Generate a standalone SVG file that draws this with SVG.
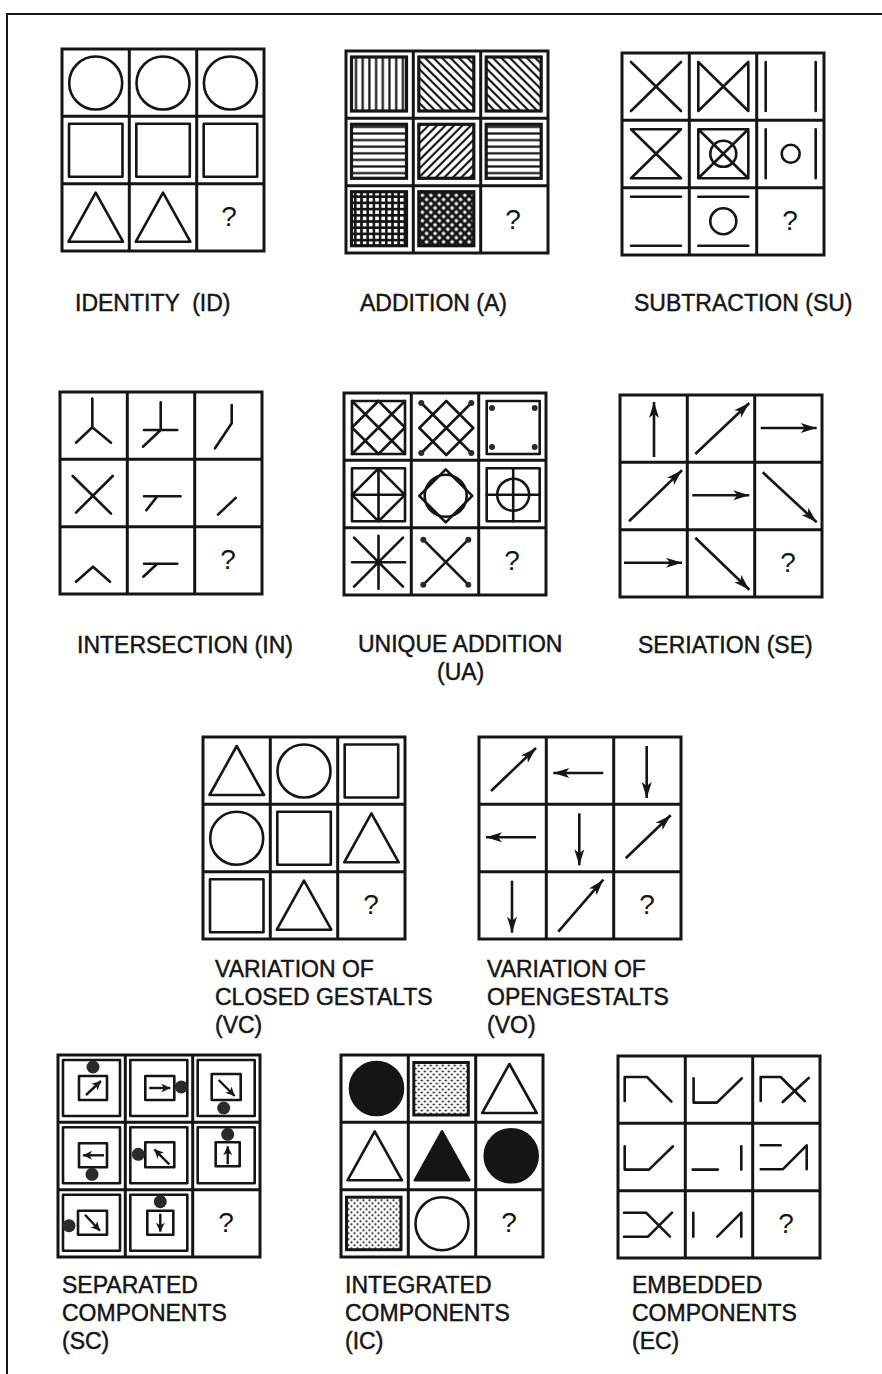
<svg xmlns="http://www.w3.org/2000/svg" width="882" height="1374" viewBox="0 0 882 1374">
<style>
.g{fill:none;stroke:#151515;stroke-width:3}
.s{fill:none;stroke:#151515;stroke-width:2.6;stroke-linejoin:round;stroke-linecap:round}
.f{fill:#151515;stroke:#151515;stroke-width:2.6;stroke-linejoin:round}
.h{stroke:#151515;stroke-width:3.2}
.a{fill:none;stroke:#151515;stroke-width:2.6;marker-end:url(#ah)}
.a2{fill:none;stroke:#151515;stroke-width:2.4;marker-end:url(#ah2)}
.t{font-family:"Liberation Sans",Arial,sans-serif;font-size:23px;fill:#151515;stroke:#151515;stroke-width:0.45;white-space:pre}
.q{font-family:"Liberation Sans",Arial,sans-serif;font-size:28px;fill:#151515;text-anchor:middle}
.d{fill:#2a2a2a}
.fr{fill:none;stroke:#151515;stroke-width:2}
</style>
<defs>
<marker id="ah" viewBox="-17 -6 18 12" refX="0" refY="0" markerWidth="18" markerHeight="12" markerUnits="userSpaceOnUse" orient="auto"><path d="M0,0 L-16,-5 L-12,0 L-16,5 Z" fill="#151515"/></marker>
<marker id="ah2" viewBox="-10 -5 11 10" refX="0" refY="0" markerWidth="11" markerHeight="10" markerUnits="userSpaceOnUse" orient="auto"><path d="M0,0 L-9,-4.5 L-6.5,0 L-9,4.5 Z" fill="#151515"/></marker>
<pattern id="pv" width="6.7" height="10" patternUnits="userSpaceOnUse"><line x1="3.3" y1="0" x2="3.3" y2="10" stroke="#151515" stroke-width="2.2"/></pattern>
<pattern id="ph" width="10" height="6.6" patternUnits="userSpaceOnUse"><line x1="0" y1="3.3" x2="10" y2="3.3" stroke="#151515" stroke-width="2.2"/></pattern>
<pattern id="pd1" width="6" height="10" patternUnits="userSpaceOnUse" patternTransform="rotate(-45)"><line x1="3" y1="0" x2="3" y2="10" stroke="#151515" stroke-width="2.2"/></pattern>
<pattern id="pd2" width="6" height="10" patternUnits="userSpaceOnUse" patternTransform="rotate(45)"><line x1="3" y1="0" x2="3" y2="10" stroke="#151515" stroke-width="2.2"/></pattern>
<pattern id="pg" width="6.2" height="6.2" patternUnits="userSpaceOnUse"><path d="M3.1,0V6.2M0,3.1H6.2" stroke="#151515" stroke-width="2.6"/></pattern>
<pattern id="px" width="6" height="6" patternUnits="userSpaceOnUse" patternTransform="rotate(45)"><path d="M3,0V6M0,3H6" stroke="#151515" stroke-width="2.9"/></pattern>
<pattern id="pdot" width="6" height="6" patternUnits="userSpaceOnUse"><circle cx="1.5" cy="1.5" r="1.1" fill="#151515"/><circle cx="4.5" cy="4.5" r="1.1" fill="#151515"/></pattern>
<g id="grid" class="g"><rect width="202" height="202"/><path d="M67.3,0V202M134.7,0V202M0,67.3H202M0,134.7H202"/></g>
<circle id="circ" cx="33.7" cy="34" r="26.5" class="s"/>
<rect id="sq" x="7" y="7.5" width="53.5" height="53" class="s"/>
<path id="tri" d="M33.7,9 L61,58 L6.5,58 Z" class="s"/>
<circle id="fcirc" cx="35.5" cy="33.5" r="26.5" class="f"/>
<path id="ftri" d="M33.7,9 L61,58 L6.5,58 Z" class="f"/>
<rect id="dsq" x="5.5" y="7.5" width="54.5" height="52.5" fill="url(#pdot)" stroke="#151515" stroke-width="3"/>
</defs>

<g id="frame"><path class="fr" d="M7,1374 V14 H882"/></g>

<g id="identity">
<g transform="translate(62,49)">
<use href="#grid"/>
<use href="#circ"/><use href="#circ" x="67.3"/><use href="#circ" x="134.7"/>
<use href="#sq" y="67.3"/><use href="#sq" x="67.3" y="67.3"/><use href="#sq" x="134.7" y="67.3"/>
<use href="#tri" y="134.7"/><use href="#tri" x="67.3" y="134.7"/>
<text class="q" x="167" y="177">?</text>
</g>
<text class="t" x="75" y="311">IDENTITY  (ID)</text>
</g>

<g id="addition">
<g transform="translate(346,51)">
<use href="#grid"/>
<rect x="5.5" y="6" width="55" height="54" fill="url(#pv)" class="h"/>
<rect x="72.8" y="6" width="55" height="54" fill="url(#pd1)" class="h"/>
<rect x="140.2" y="6" width="55" height="54" fill="url(#pd1)" class="h"/>
<rect x="5.5" y="73.3" width="55" height="54" fill="url(#ph)" class="h"/>
<rect x="72.8" y="73.3" width="55" height="54" fill="url(#pd2)" class="h"/>
<rect x="140.2" y="73.3" width="55" height="54" fill="url(#ph)" class="h"/>
<rect x="5.5" y="140.7" width="55" height="54" fill="url(#pg)" class="h"/>
<rect x="72.8" y="140.7" width="55" height="54" fill="url(#px)" class="h"/>
<text class="q" x="167" y="178">?</text>
</g>
<text class="t" x="360" y="311">ADDITION (A)</text>
</g>

<g id="subtraction">
<g transform="translate(622,53)">
<use href="#grid"/>
<path class="s" d="M9,9L59,58M59,9L9,58"/>
<path class="s" transform="translate(67.3,0)" d="M9,9L59,58M59,9L9,58M9,9V58M59,9V58"/>
<path class="s" transform="translate(134.7,0)" d="M9,9V58M59,9V58"/>
<path class="s" transform="translate(0,67.3)" d="M9,9L59,58M59,9L9,58M9,9H59M9,58H59"/>
<g transform="translate(67.3,67.3)"><path class="s" d="M9,9L59,58M59,9L9,58M9,9V58M59,9V58M9,9H59M9,58H59"/><circle class="s" cx="34" cy="33.5" r="13"/></g>
<g transform="translate(134.7,67.3)"><path class="s" d="M9,9V58M59,9V58"/><circle class="s" cx="34" cy="33.5" r="9"/></g>
<path class="s" transform="translate(0,134.7)" d="M9,9H59M9,58H59"/>
<g transform="translate(67.3,134.7)"><path class="s" d="M9,9H59M9,58H59"/><circle class="s" cx="34" cy="33.5" r="13"/></g>
<text class="q" x="168" y="177">?</text>
</g>
<text class="t" x="634" y="311">SUBTRACTION (SU)</text>
</g>

<g id="intersection">
<g transform="translate(60,392)">
<use href="#grid"/>
<path class="s" d="M32.3,6.5V35.3M16,50.7L32.3,35.3L51,50.7"/>
<path class="s" transform="translate(67.3,0)" d="M33.4,10.3V38M16.7,38H50M33.4,38L15.7,54.7"/>
<path class="s" transform="translate(134.7,0)" d="M37,13V31.3L20.3,56.3"/>
<path class="s" transform="translate(0,67.3)" d="M12.7,16.7L51,54.3M52.7,16.7L16,53.3"/>
<path class="s" transform="translate(67.3,67.3)" d="M16.7,37H53.3M30,37L19,51"/>
<path class="s" transform="translate(134.7,67.3)" d="M41,38.6L23.3,55.3"/>
<path class="s" transform="translate(0,134.7)" d="M16,55L33,40L50,55"/>
<path class="s" transform="translate(67.3,134.7)" d="M16.7,37H50M30,37L16,50"/>
<text class="q" x="168" y="177">?</text>
</g>
<text class="t" x="77" y="653">INTERSECTION (IN)</text>
</g>

<g id="unique-addition">
<g transform="translate(344,393)">
<use href="#grid"/>
<g><rect class="s" x="8" y="8" width="53" height="53"/><path class="s" d="M34.5,8L61,34.5L34.5,61L8,34.5ZM8,8L61,61M61,8L8,61"/></g>
<g transform="translate(67.3,0)"><path class="s" d="M35,8L62,35L35,62L8,35ZM10,10L60,60M60,10L10,60"/><circle class="d" cx="10" cy="10" r="3"/><circle class="d" cx="60" cy="10" r="3"/><circle class="d" cx="10" cy="60" r="3"/><circle class="d" cx="60" cy="60" r="3"/></g>
<g transform="translate(134.7,0)"><rect class="s" x="8" y="8" width="53" height="53"/><circle class="d" cx="13.3" cy="15" r="3"/><circle class="d" cx="13.3" cy="54" r="3"/><circle class="d" cx="56" cy="15" r="3"/><circle class="d" cx="56" cy="54" r="3"/></g>
<g transform="translate(0,67.3)"><rect class="s" x="8" y="8" width="53" height="53"/><path class="s" d="M34.5,8L61,34.5L34.5,61L8,34.5ZM34.5,8V61M8,34.5H61"/></g>
<g transform="translate(67.3,67.3)"><path class="s" d="M34.4,9L61,35.5L34.4,62L8,35.5Z"/><circle class="s" cx="34.4" cy="35.5" r="21"/></g>
<g transform="translate(134.7,67.3)"><rect class="s" x="8" y="8" width="53" height="53"/><path class="s" d="M34.5,8V61M8,34.5H61"/><circle class="s" cx="34.5" cy="34.5" r="16"/></g>
<path class="s" transform="translate(0,134.7)" d="M34.5,8V61M8,34.5H61M10,10L59,59M59,10L10,59"/>
<g transform="translate(67.3,134.7)"><path class="s" d="M12,12L57,57M57,12L12,57"/><circle class="d" cx="12" cy="12" r="3"/><circle class="d" cx="57" cy="12" r="3"/><circle class="d" cx="12" cy="57" r="3"/><circle class="d" cx="57" cy="57" r="3"/></g>
<text class="q" x="168" y="177">?</text>
</g>
<text class="t" x="358" y="652">UNIQUE ADDITION</text>
<text class="t" x="437" y="680">(UA)</text>
</g>

<g id="seriation">
<g transform="translate(620,395)">
<use href="#grid"/>
<path class="a" d="M34,62V7"/>
<path class="a" transform="translate(67.3,0)" d="M8,59L62,8"/>
<path class="a" transform="translate(134.7,0)" d="M6,33H62"/>
<path class="a" transform="translate(0,67.3)" d="M9,59L62,8"/>
<path class="a" transform="translate(67.3,67.3)" d="M5,33H62"/>
<path class="a" transform="translate(134.7,67.3)" d="M8,10L62,60"/>
<path class="a" transform="translate(0,134.7)" d="M4,33H62"/>
<path class="a" transform="translate(67.3,134.7)" d="M8,8L62,60"/>
<text class="q" x="168" y="177">?</text>
</g>
<text class="t" x="638" y="653">SERIATION (SE)</text>
</g>

<g id="closed-gestalts">
<g transform="translate(203,737)">
<use href="#grid"/>
<use href="#tri"/><use href="#circ" x="67.3"/><use href="#sq" x="134.7"/>
<use href="#circ" y="67.3"/><use href="#sq" x="67.3" y="67.3"/><use href="#tri" x="134.7" y="67.3"/>
<use href="#sq" y="134.7"/><use href="#tri" x="67.3" y="134.7"/>
<text class="q" x="168" y="177">?</text>
</g>
<text class="t" x="215" y="977">VARIATION OF</text>
<text class="t" x="215" y="1005">CLOSED GESTALTS</text>
<text class="t" x="215" y="1033">(VC)</text>
</g>

<g id="open-gestalts">
<g transform="translate(479,737)">
<use href="#grid"/>
<path class="a" d="M12,54L57,11"/>
<path class="a" transform="translate(67.3,0)" d="M57,36H7"/>
<path class="a" transform="translate(134.7,0)" d="M33,9V61"/>
<path class="a" transform="translate(0,67.3)" d="M57,33H7"/>
<path class="a" transform="translate(67.3,67.3)" d="M33,9V61"/>
<path class="a" transform="translate(134.7,67.3)" d="M12,54L57,11"/>
<path class="a" transform="translate(0,134.7)" d="M33,9V61"/>
<path class="a" transform="translate(67.3,134.7)" d="M12,60L57,8"/>
<text class="q" x="168" y="177">?</text>
</g>
<text class="t" x="487" y="977">VARIATION OF</text>
<text class="t" x="487" y="1005">OPENGESTALTS</text>
<text class="t" x="487" y="1033">(VO)</text>
</g>

<g id="separated-components">
<g transform="translate(58,1055)">
<use href="#grid"/>
<g><rect class="s" x="5" y="5" width="57" height="56"/><rect class="s" x="21" y="21" width="28" height="24"/><path class="a2" d="M28,40L43,26"/><circle class="d" cx="35" cy="12" r="6.5"/></g>
<g transform="translate(67.3,0)"><rect class="s" x="5" y="5" width="57" height="56"/><rect class="s" x="20" y="21" width="29" height="24"/><path class="a2" d="M24,33H45"/><circle class="d" cx="56" cy="32" r="6.5"/></g>
<g transform="translate(134.7,0)"><rect class="s" x="5" y="5" width="57" height="56"/><rect class="s" x="19" y="19" width="29" height="26"/><path class="a2" d="M26,25L42,41"/><circle class="d" cx="31" cy="53" r="6.5"/></g>
<g transform="translate(0,67.3)"><rect class="s" x="5" y="5" width="57" height="56"/><rect class="s" x="21" y="21" width="28" height="24"/><path class="a2" d="M46,33H25"/><circle class="d" cx="34" cy="52" r="6.5"/></g>
<g transform="translate(67.3,67.3)"><rect class="s" x="5" y="5" width="57" height="56"/><rect class="s" x="20" y="20" width="29" height="25"/><path class="a2" d="M44,42L29,27"/><circle class="d" cx="13" cy="32" r="6.5"/></g>
<g transform="translate(134.7,67.3)"><rect class="s" x="5" y="5" width="57" height="56"/><rect class="s" x="23" y="20" width="24" height="24"/><path class="a2" d="M35,42V24"/><circle class="d" cx="35" cy="12" r="6.5"/></g>
<g transform="translate(0,134.7)"><rect class="s" x="5" y="5" width="57" height="56"/><rect class="s" x="20" y="21" width="29" height="24"/><path class="a2" d="M27,25L42,41"/><circle class="d" cx="11" cy="36" r="6.5"/></g>
<g transform="translate(67.3,134.7)"><rect class="s" x="5" y="5" width="57" height="56"/><rect class="s" x="22" y="21" width="26" height="24"/><path class="a2" d="M35,24V42"/><circle class="d" cx="35" cy="12" r="6.5"/></g>
<text class="q" x="168" y="177">?</text>
</g>
<text class="t" x="62" y="1293">SEPARATED</text>
<text class="t" x="62" y="1321">COMPONENTS</text>
<text class="t" x="62" y="1349">(SC)</text>
</g>

<g id="integrated-components">
<g transform="translate(341,1055)">
<use href="#grid"/>
<use href="#fcirc"/><use href="#dsq" x="67.3"/><use href="#tri" x="134.7"/>
<use href="#tri" y="67.3"/><use href="#ftri" x="67.3" y="67.3"/><use href="#fcirc" x="134.7" y="67.3"/>
<use href="#dsq" y="134.7"/><use href="#circ" x="67.3" y="134.7"/>
<text class="q" x="168" y="177">?</text>
</g>
<text class="t" x="345" y="1293">INTEGRATED</text>
<text class="t" x="345" y="1321">COMPONENTS</text>
<text class="t" x="345" y="1349">(IC)</text>
</g>

<g id="embedded-components">
<g transform="translate(618,1056)">
<use href="#grid"/>
<path class="s" d="M6.7,45V21H29L53.4,45.6"/>
<path class="s" transform="translate(67.3,0)" d="M8.3,22.3V46.6H31.6L56.6,22.3"/>
<path class="s" transform="translate(134.7,0)" d="M8,45V21H28L52,45M30,46L56,22"/>
<path class="s" transform="translate(0,67.3)" d="M6.7,23V46.3H31L55,23"/>
<path class="s" transform="translate(67.3,67.3)" d="M7.3,46.3H32.6M56,23V46.3"/>
<path class="s" transform="translate(134.7,67.3)" d="M8,22H28M8,46H30L54,22V46"/>
<path class="s" transform="translate(0,134.7)" d="M6,22H28L52,46M6,46H30L54,22"/>
<path class="s" transform="translate(67.3,134.7)" d="M8,22V46M32,46L56,22V46"/>
<text class="q" x="168" y="177">?</text>
</g>
<text class="t" x="632" y="1293">EMBEDDED</text>
<text class="t" x="632" y="1321">COMPONENTS</text>
<text class="t" x="632" y="1349">(EC)</text>
</g>
</svg>
